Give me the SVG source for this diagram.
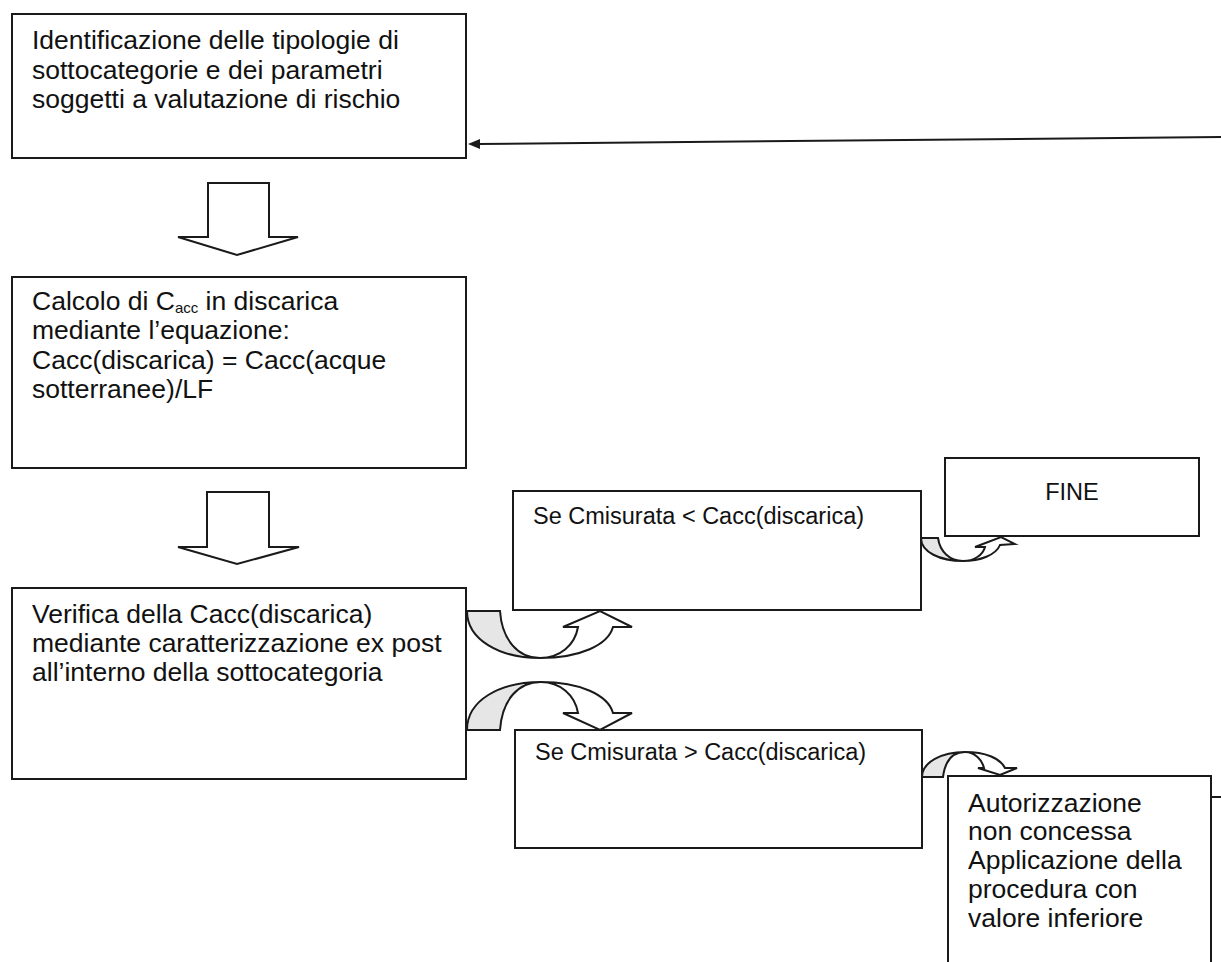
<svg xmlns="http://www.w3.org/2000/svg" width="1221" height="962" viewBox="0 0 1221 962">
<style>
.box{fill:#fff;stroke:#1a1a1a;stroke-width:2}
.t{font-family:"Liberation Sans",Arial,sans-serif;font-size:26.5px;fill:#111}
.s{font-family:"Liberation Sans",Arial,sans-serif;font-size:23.5px;fill:#111}
.blk{fill:#fff;stroke:#1a1a1a;stroke-width:2;stroke-linejoin:miter}
.back{fill:#e6e6e6;stroke:#1a1a1a;stroke-width:2}
.front{fill:#fff;stroke:#1a1a1a;stroke-width:2;stroke-linejoin:miter}
.ln{fill:none;stroke:#1a1a1a;stroke-width:2}
</style>
<g id="connectors">
<path class="ln" d="M1221,137 L478,144" />
<path d="M468,144 L480,139 L480,149 Z" fill="#1a1a1a"/>
<path class="blk" d="M208,183 L269,183 L269,237 L298,237 L237,255 L178,237 L208,237 Z"/>
<path class="blk" d="M207,492 L269,492 L269,547 L299,547 L237,564 L178,547 L207,547 Z"/>
<path class="back" d="M467,611 L500,611 C502,640 518,658 540,658 C500,658 467,640 467,611 Z"/>
<path class="front" d="M540,658 C560,658 575,645 578,627 L563,627 L600,611 L632,627 L613,627 C608,645 580,658 540,658 Z"/>
<path class="back" d="M467,730 L500,730 C502,700 518,682 541,682 C500,682 467,700 467,730 Z"/>
<path class="front" d="M541,682 C560,682 575,695 578,713 L563,713 L600,730 L632,713 L613,713 C608,695 580,682 541,682 Z"/>
<path class="back" d="M921,538 L938,538 C940,552 950,561 963,561 C940,561 921,552 921,538 Z"/>
<path class="front" d="M963,561 C974,561 983,555 985,547 L975,547 L1001,537 L1015,544 L1000,545 C996,555 980,561 963,561 Z"/>
<path class="back" d="M922,777 L943,777 C945,762 952,752 965,752 C942,752 922,762 922,777 Z"/>
<path class="front" d="M965,752 C975,752 982,760 984,768 L978,768 L1000,775 L1017,768 L1005,768 C1000,758 985,752 965,752 Z"/>
<path class="ln" d="M1211,797 L1221,797"/>
</g>
<g id="n1">
<rect class="box" x="12" y="14" width="454" height="144"/>
<text class="t" x="32" y="49">Identificazione delle tipologie di</text>
<text class="t" x="32" y="78.5">sottocategorie e dei parametri</text>
<text class="t" x="32" y="108">soggetti a valutazione di rischio</text>
</g>
<g id="n2">
<rect class="box" x="12" y="277" width="454" height="191"/>
<text class="t" x="32" y="310">Calcolo di C<tspan font-size="15" dy="3">acc</tspan><tspan dy="-3"> in discarica</tspan></text>
<text class="t" x="32" y="339">mediante l’equazione:</text>
<text class="t" x="32" y="368.5">Cacc(discarica) = Cacc(acque</text>
<text class="t" x="32" y="398">sotterranee)/LF</text>
</g>
<g id="n3">
<rect class="box" x="12" y="588" width="454" height="191"/>
<text class="t" x="32" y="623">Verifica della Cacc(discarica)</text>
<text class="t" x="32" y="652">mediante caratterizzazione ex post</text>
<text class="t" x="32" y="681">all’interno della sottocategoria</text>
</g>
<g id="n4">
<rect class="box" x="513" y="491" width="408" height="119"/>
<text class="s" x="533" y="524">Se Cmisurata &lt; Cacc(discarica)</text>
</g>
<g id="n5">
<rect class="box" x="945" y="458" width="254" height="78"/>
<text class="s" x="1072" y="500" text-anchor="middle">FINE</text>
</g>
<g id="n6">
<rect class="box" x="515" y="730" width="407" height="118"/>
<text class="s" x="535" y="760">Se Cmisurata &gt; Cacc(discarica)</text>
</g>
<g id="n7">
<rect class="box" x="948" y="776" width="263" height="200"/>
<text class="t" x="968" y="812">Autorizzazione</text>
<text class="t" x="968" y="840">non concessa</text>
<text class="t" x="968" y="869">Applicazione della</text>
<text class="t" x="968" y="898">procedura con</text>
<text class="t" x="968" y="927">valore inferiore</text>
</g>
</svg>
